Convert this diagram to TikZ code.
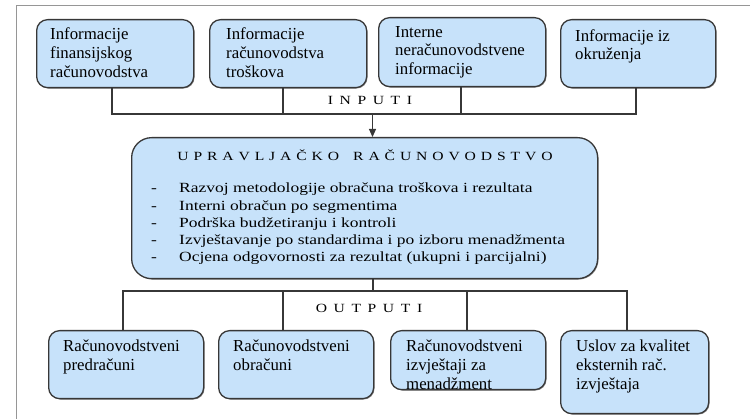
\documentclass[tikz,border=0pt]{standalone}
\usepackage{fontspec}
\setmainfont{Liberation Serif}
\newfontfamily\widefont{Liberation Serif}[FakeStretch=1.25]
\usetikzlibrary{arrows.meta,shadows}
\definecolor{boxfill}{RGB}{199,226,250}
\definecolor{boxline}{RGB}{55,55,55}
\definecolor{framecol}{RGB}{150,150,150}
\newcommand{\sg}{\hspace{6.6pt}}
\newcommand{\tg}{\hspace{4.9pt}}
\begin{document}
\begin{tikzpicture}[x=1pt,y=-1pt,
  box/.style={draw=boxline, line width=1.3pt, fill=boxfill, rounded corners=11pt, anchor=north west, inner sep=0pt,
    drop shadow={shadow xshift=0.9pt, shadow yshift=-0.9pt, opacity=0.45, fill=black}},
  bigbox/.style={box, rounded corners=20pt},
  txt/.style={anchor=north west, inner sep=0pt, align=left, font=\fontsize{16.8}{18.8}\selectfont},
  midtxt/.style={anchor=north west, inner sep=0pt, align=left, font=\widefont\fontsize{14}{17.2}\selectfont},
  captxt/.style={inner sep=0pt, anchor=base, font=\widefont\fontsize{12.5}{14}\selectfont},
  conn/.style={draw=boxline, line width=1.1pt}]
\useasboundingbox (0,0) rectangle (750,419);
% frame
\draw[framecol, line width=1pt] (16,419) -- (16,6) -- (750,6);
% top boxes
\node[box, minimum width=157pt, minimum height=68pt] (b1) at (36,19) {};
\node[box, minimum width=157pt, minimum height=68pt] (b2) at (209,19) {};
\node[box, minimum width=167pt, minimum height=69pt] (b3) at (378,17) {};
\node[box, minimum width=155pt, minimum height=68pt] (b4) at (560,19) {};
\node[txt] (t1) at (50,27.5) {Informacije\\finansijskog\\računovodstva};
\node[txt] (t2) at (226,27.5) {Informacije\\računovodstva\\troškova};
\node[txt] (t3) at (395,26) {Interne\\neračunovodstvene\\informacije};
\node[txt] (t4) at (575,29) {Informacije iz\\okruženja};
% input connectors
\coordinate (i1) at (112,114);
\coordinate (i2) at (283,114);
\coordinate (i3) at (461,114);
\coordinate (i4) at (636,114);
\coordinate (ia) at (372.5,114);
\draw[conn] (i1 |- b1.south) -- (i1) -- (i4) -- (i4 |- b4.south);
\draw[conn] (i2 |- b2.south) -- (i2);
\draw[conn] (i3 |- b3.south) -- (i3);
\node[captxt] (inp) at (370,105) {I\sg N\sg P\sg U\sg T\sg I};
% center box
\node[bigbox, minimum width=466pt, minimum height=141pt] (c) at (131,137) {};
\draw[conn, -{Triangle[length=8pt,width=7pt]}] (ia) -- (ia |- c.north);
\node[captxt] (title) at (365,160.7) {U\tg P\tg R\tg A\tg V\tg L\tg J\tg A\tg Č\tg K\tg O\hspace{14pt}R\tg A\tg Č\tg U\tg N\tg O\tg V\tg O\tg D\tg S\tg T\tg V\tg O};
\node[midtxt] (list) at (151,183) {\makebox[28pt][l]{-}Razvoj metodologije obračuna troškova i rezultata\\
\makebox[28pt][l]{-}Interni obračun po segmentima\\
\makebox[28pt][l]{-}Podrška budžetiranju i kontroli\\
\makebox[28pt][l]{-}Izvještavanje po standardima i po izboru menadžmenta\\
\makebox[28pt][l]{-}Ocjena odgovornosti za rezultat (ukupni i parcijalni)};
% output connectors
\coordinate (oc) at (373,291);
\coordinate (o5) at (123,291);
\coordinate (o6) at (283,291);
\coordinate (o7) at (467,291);
\coordinate (o8) at (627,291);
\draw[conn] (oc |- c.south) -- (oc);
\node[captxt] (outp) at (369,313) {O\sg U\sg T\sg P\sg U\sg T\sg I};
% bottom boxes
\node[box, minimum width=155pt, minimum height=68pt] (b5) at (48,330) {};
\node[box, minimum width=155pt, minimum height=68pt] (b6) at (218,330) {};
\node[box, minimum width=155pt, minimum height=59pt] (b7) at (390,330) {};
\node[box, minimum width=148pt, minimum height=83pt] (b8) at (560,330) {};
\draw[conn] (o5 |- b5.north) -- (o5) -- (o8) -- (o8 |- b8.north);
\draw[conn] (o6 |- b6.north) -- (o6);
\draw[conn] (o7 |- b7.north) -- (o7);
\node[txt] (t5) at (63,340) {Računovodstveni\\predračuni};
\node[txt] (t6) at (233,340) {Računovodstveni\\obračuni};
\node[txt] (t7) at (406,340) {Računovodstveni\\izvještaji za\\menadžment};
\node[txt] (t8) at (576,340) {Uslov za kvalitet\\eksternih rač.\\izvještaja};
\end{tikzpicture}
\end{document}
